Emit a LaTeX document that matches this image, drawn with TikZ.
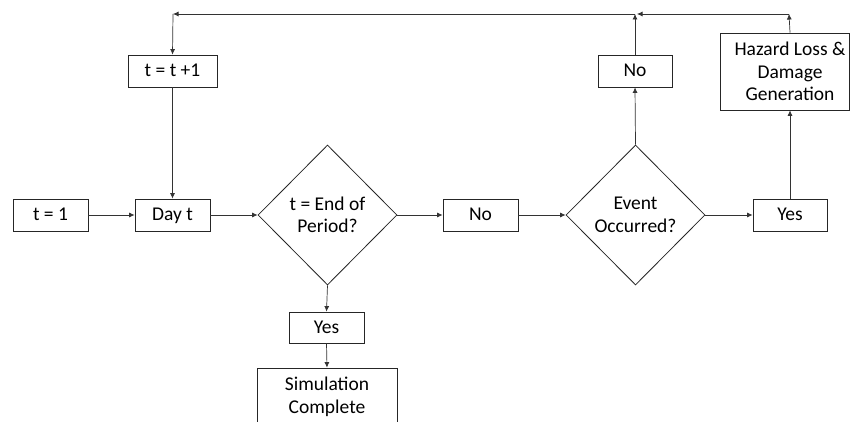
\documentclass[tikz,border=0pt]{standalone}
\usepackage{fontspec}
\setmainfont{Carlito}
\usetikzlibrary{shapes.geometric,arrows.meta}
\begin{document}
\begin{tikzpicture}[x=1pt,y=-1pt,
  font=\fontsize{19.5}{22.5}\selectfont,
  box/.style={draw=black!85, line width=0.8pt, inner sep=0pt, align=center},
  sbox/.style={box, text height=14pt, text depth=3pt},
  dec/.style={draw=black!85, line width=0.8pt, shape=diamond, inner sep=0pt, aspect=1,
     minimum width=139pt, minimum height=140pt, align=center},
  conn/.style={draw=black!80, line width=0.7pt},
  arr/.style={conn, -{Latex[length=5.5pt,width=5pt]}}]
\useasboundingbox (0,0) rectangle (850,422);
\clip (0,0) rectangle (850,422);
\fill[white] (0,0) rectangle (850,422);
% nodes
\node[sbox, minimum width=75pt, minimum height=32pt] (t1) at (50.5,215) {t = 1};
\node[sbox, minimum width=75pt, minimum height=32pt] (day) at (172.5,215) {Day t};
\node[sbox, minimum width=89pt, minimum height=32pt] (tt1) at (172.5,71) {t = t +1};
\node[dec] (d1) at (327.5,215) {t = End of\\Period?};
\node[sbox, minimum width=75pt, minimum height=32pt] (no1) at (480.5,215) {No};
\node[dec] (d2) at (635.5,215) {Event\\Occurred?};
\node[sbox, minimum width=74pt, minimum height=32pt] (yes2) at (790,215) {Yes};
\node[sbox, minimum width=74pt, minimum height=32pt] (no2) at (635,71) {No};
\node[box, minimum width=129pt, minimum height=77pt] (haz) at (784.5,71.5) {};
\node[align=center] (hazt) at (790,71.5) {Hazard Loss \&\\Damage\\Generation};
\node[sbox, minimum width=75pt, minimum height=31pt] (yes1) at (326.5,327.5) {Yes};
\node[box, minimum width=140pt, minimum height=58pt] (sim) at (327,397) {Simulation\\Complete};
\coordinate (c1) at (789,14);
\coordinate (c2) at (637,14);
\coordinate (c3) at (635,14);
\coordinate (c4) at (173,14);
% connectors
\draw[arr] (t1.east) -- (day.west);
\draw[arr] (tt1.south) -- (day.north);
\draw[arr] (day.east) -- (d1.west);
\draw[arr] (d1.east) -- (no1.west);
\draw[arr] (no1.east) -- (d2.west);
\draw[arr] (d2.east) -- (yes2.west);
\draw[arr] (d2.north) -- (no2.south);
\draw[arr] (no2.north) -- (c3);
\draw[arr] (yes2.north) -- (yes2.north |- haz.south);
\draw[arr] (yes2.north |- haz.north) -- (c1);
\draw[arr] (c1) -- (c2);
\draw[arr] (c3) -- (c4);
\draw[arr] (c4) -- (tt1.north);
\draw[arr] (d1.south) -- (yes1.north);
\draw[arr] (yes1.south) -- (sim.north);
\end{tikzpicture}
\end{document}
